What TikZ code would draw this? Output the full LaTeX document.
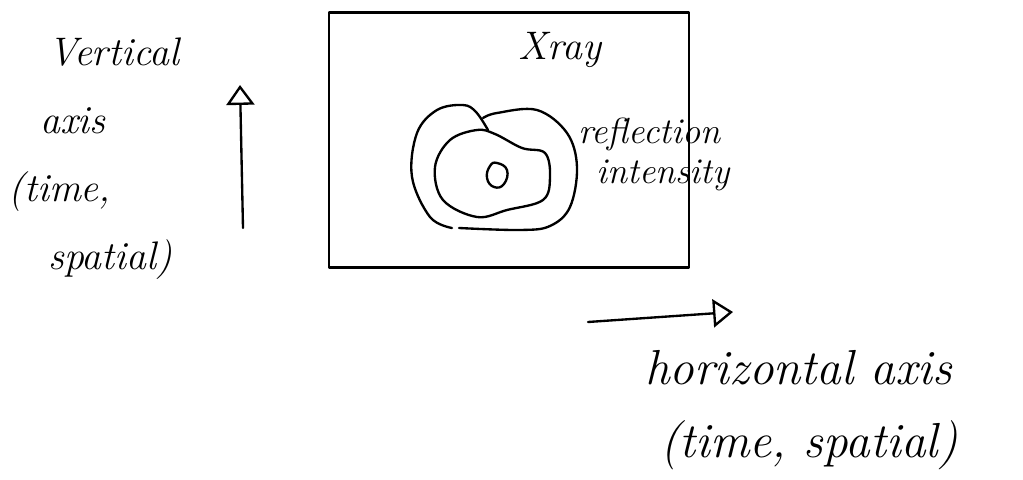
\documentclass[tikz,border=0pt]{standalone}
\usetikzlibrary{arrows.meta}
\begin{document}
\begin{tikzpicture}[
        x=0.03cm, y=-0.03cm,
        pen/.style={line width=2pt, line cap=round, line join=round},
        axisarrow/.style={pen, -{Triangle[open, length=17pt, width=24pt, line width=2pt]}},
        hand/.style={font=\itshape\fontsize{34}{58}\selectfont, align=left, inner sep=0pt}
    ]
        \useasboundingbox (0,0) rectangle (1023,480);
        % frame of the x-ray image
        \node[pen, draw, rectangle, minimum width=10.8cm, minimum height=7.65cm] (frame) at (509,140) {};
        \node[hand] (xray) at (560,50) {Xray};
        \node[hand, anchor=north west, font=\itshape\fontsize{31}{34}\selectfont] (refl) at (578,118) {reflection\\\hspace*{0.5em}intensity};

        % contours
        \draw[pen] plot[smooth, tension=0.6] coordinates {(483,118) (497,113) (537,110) (567,133) (577,167) (570,207) (550,226) (520,230) (459,228)};
        \draw[pen] plot[smooth, tension=0.6] coordinates {(452,228) (430,217) (412,177) (417,133) (437,110) (463,105) (476,112) (488,130)};
        \draw[pen] plot[smooth cycle, tension=0.6] coordinates {(477,217) (443,200) (435,167) (450,140) (477,130) (495,134) (522,148) (545,153) (550,177) (543,200) (507,210)};
        \draw[pen] plot[smooth cycle, tension=0.8] coordinates {(497,163) (507,170) (504,184) (494,187) (487,178) (490,166)};

        % axes
        \coordinate (vbot) at (243,228);
        \coordinate (vtop) at (240,85);
        \coordinate (hleft) at (588,322);
        \coordinate (hright) at (733,312);
        \draw[axisarrow] (vbot) -- (vtop);
        \draw[axisarrow] (hleft) -- (hright);

        \node[hand, anchor=north west] (vlabel) at (8,38) {\hspace*{1em}Vertical\\\hspace*{0.8em}axis\\(time,\\\hspace*{1em}spatial)};
        \node[hand, anchor=north west, font=\itshape\fontsize{42}{62}\selectfont] (hlabel) at (645,350) {horizontal axis\\\hspace*{0.3em}(time, spatial)};
    \end{tikzpicture}
\end{document}
